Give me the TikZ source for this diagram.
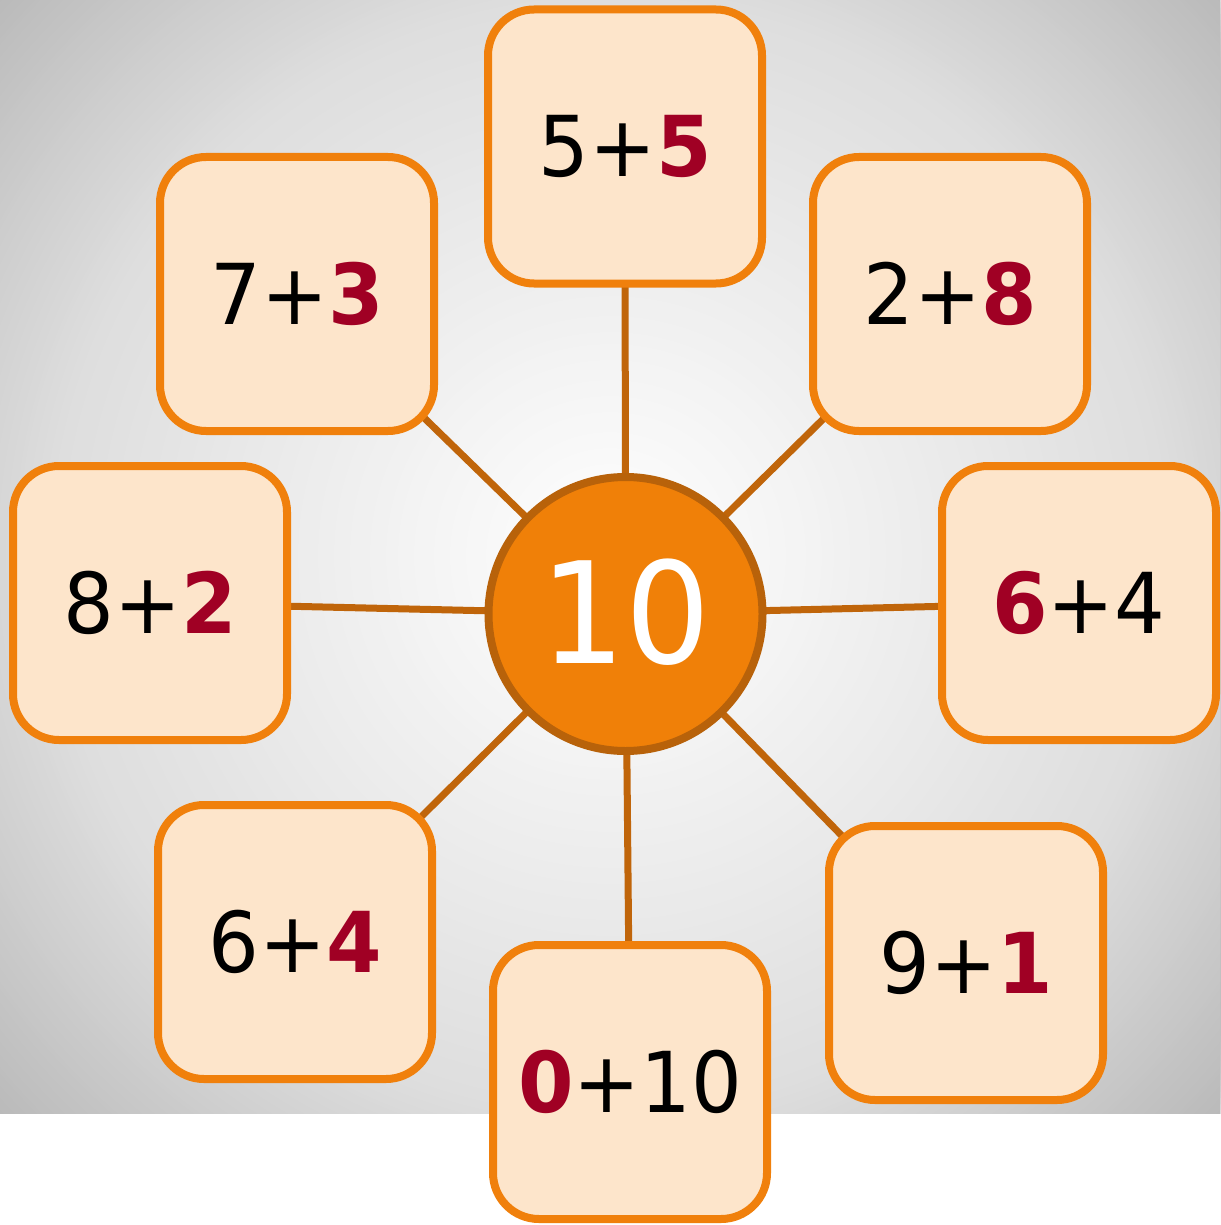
\documentclass[tikz,border=0pt]{standalone}
\usepackage{fontspec}
\setmainfont{DejaVu Sans}[FakeStretch=0.95]
\usetikzlibrary{backgrounds}
\definecolor{boxfill}{HTML}{FDE5CB}
\definecolor{boxline}{HTML}{F0800C}
\definecolor{hubfill}{HTML}{F08008}
\definecolor{hubline}{HTML}{B8620A}
\definecolor{linkcol}{HTML}{C0650A}
\definecolor{accent}{HTML}{A00024}
\newcommand{\hl}[1]{{\bfseries\color{accent}#1}}
\tikzset{
  numbox/.style={draw=boxline, fill=boxfill, line width=4pt, rounded corners=23pt,
    minimum width=137pt, minimum height=137pt, inner sep=0pt,
    font=\fontsize{42}{50}\selectfont, text=black},
  hub/.style={circle, draw=hubline, fill=hubfill, line width=4pt, minimum size=137pt,
    inner sep=0pt, font=\fontsize{70.5}{80}\selectfont, text=white},
  linkline/.style={draw=linkcol, line width=3.5pt}
}
\begin{document}
\begin{tikzpicture}[x=0.5pt,y=-0.5pt]
\useasboundingbox (0,0) rectangle (1220,1225);
\node[hub] (hub) at (625.5,614) {\raisebox{2.5pt}{10}};
\node[numbox] (t) at (625,146.5) {5+\hl{5}};
\node[numbox] (tl) at (297,294) {7+\hl{3}};
\node[numbox] (tr) at (950,294) {2+\hl{8}};
\node[numbox] (l) at (150,603) {8+\hl{2}};
\node[numbox] (r) at (1079,603) {\hl{6}+4};
\node[numbox] (bl) at (295,942) {6+\hl{4}};
\node[numbox] (b) at (630,1082) {\hl{0}+10};
\node[numbox] (br) at (966,963) {9+\hl{1}};
\begin{scope}[on background layer]
  \fill[white] (0,0) rectangle (1220,1225);
  \begin{scope}
    \clip (0,0) rectangle (1220,1113);
    \coordinate (gc) at (610,556);
    \foreach \r in {844,840,...,4}{
      \pgfmathsetmacro\pc{\r<=560 ? 13*\r/560 : 13+14*(\r-560)/270}
      \pgfmathsetmacro\rr{\r*0.5}
      \fill[black!\pc!white] (gc) circle[radius=\rr pt];
    }
  \end{scope}
  \foreach \n in {t,tl,tr,l,r,bl,b,br}
    \draw[linkline] (hub.center) -- (\n.center);
\end{scope}
\end{tikzpicture}
\end{document}
